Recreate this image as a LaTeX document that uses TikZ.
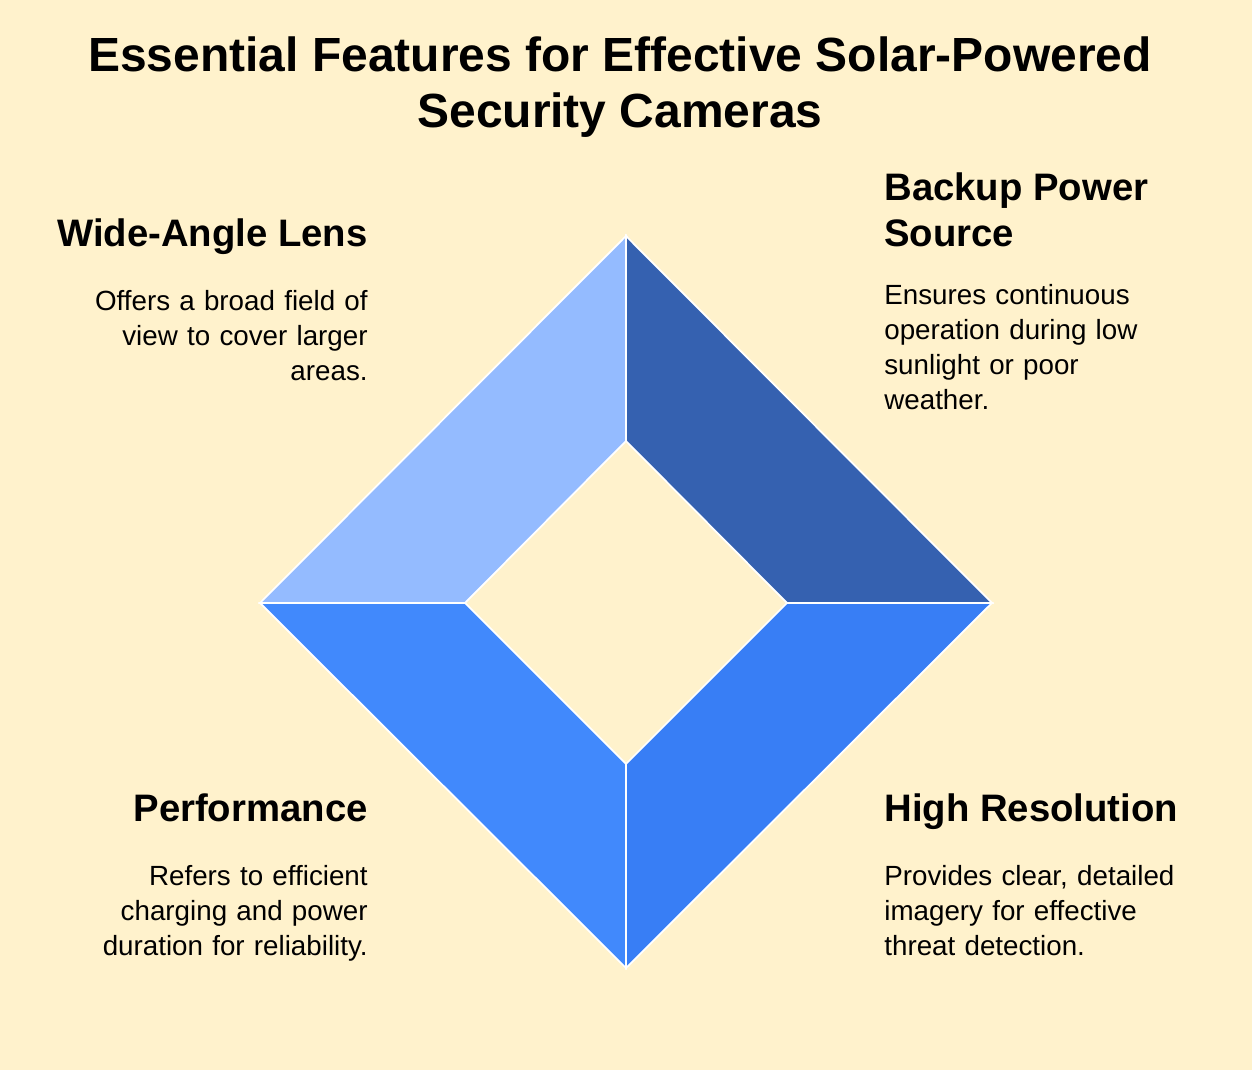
\documentclass[tikz,border=0pt]{standalone}
\usepackage{fontspec}
\setmainfont{Liberation Sans}
\definecolor{bgcol}{HTML}{FFF2CC}
\definecolor{lightblue}{HTML}{94BBFF}
\definecolor{darkblue}{HTML}{3561B0}
\definecolor{midblue}{HTML}{387EF5}
\definecolor{brightblue}{HTML}{4189FC}
\tikzset{
  piece/.style={draw=white, line width=1pt, line join=miter},
  heading/.style={font=\fontsize{21.8}{26.7}\selectfont\bfseries, inner sep=0pt},
  body/.style={font=\fontsize{15.8}{19.9}\selectfont, inner sep=0pt, text width=9cm}
}
\begin{document}
\begin{tikzpicture}[x=0.02cm, y=-0.02cm]
    % Background
    \fill [bgcol] (0,0) rectangle (1252,1070);
    \useasboundingbox (0,0) rectangle (1252,1070);
    % Corner points
    \coordinate (OT) at (626,236);
    \coordinate (OL) at (260,603);
    \coordinate (OR) at (992,603);
    \coordinate (OB) at (626,968);
    \coordinate (IT) at (626,441);
    \coordinate (IL) at (465,603);
    \coordinate (IR) at (787,603);
    \coordinate (IB) at (626,764);
    % Pieces
    \path [piece, fill=lightblue] (OT) -- (OL) -- (IL) -- (IT) -- cycle;
    \path [piece, fill=darkblue] (OT) -- (IT) -- (IR) -- (OR) -- cycle;
    \path [piece, fill=midblue] (OR) -- (IR) -- (IB) -- (OB) -- cycle;
    \path [piece, fill=brightblue] (OL) -- (OB) -- (IB) -- (IL) -- cycle;
    % Title
    \node [font=\fontsize{27.3}{31.9}\selectfont\bfseries, align=center, inner sep=0pt, anchor=base] (title) at (620,128)
        {Essential Features for Effective Solar-Powered\\Security Cameras};
    % Labels
    \node [heading, anchor=base east] (wide) at (368,247) {Wide-Angle Lens};
    \node [body, anchor=base east, align=right] (widetext) at (368,311)
        {Offers a broad field of\\view to cover larger\\areas.};
    \node [heading, anchor=base west, align=left] (backup) at (884,247)
        {Backup Power\\Source};
    \node [body, anchor=base west, align=left] (backuptext) at (884,305)
        {Ensures continuous\\operation during low\\sunlight or poor\\weather.};
    \node [heading, anchor=base east] (perf) at (368,822) {Performance};
    \node [body, anchor=base east, align=right] (perftext) at (368,886)
        {Refers to efficient\\charging and power\\duration for reliability.};
    \node [heading, anchor=base west] (high) at (884,822) {High Resolution};
    \node [body, anchor=base west, align=left] (hightext) at (884,886)
        {Provides clear, detailed\\imagery for effective\\threat detection.};
\end{tikzpicture}
\end{document}
